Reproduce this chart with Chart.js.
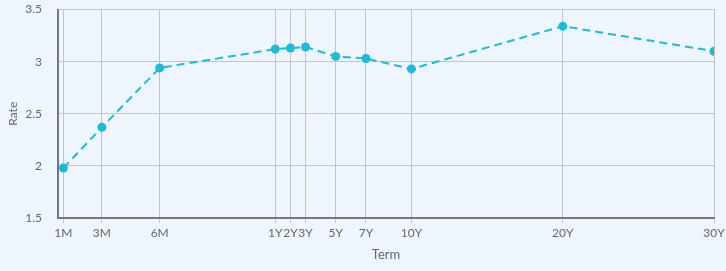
<!DOCTYPE html>
<html>
<head>
<meta charset="utf-8">
<script src="https://cdn.jsdelivr.net/npm/chart.js@4.4.1/dist/chart.umd.min.js"></script>
<style>
  html, body { margin: 0; padding: 0; background: #EEF5FC; }
  #wrap { width: 726px; height: 271px; position: relative; }
</style>
</head>
<body>
<div id="wrap"><canvas id="curve"></canvas></div>
<script>
// Termes de la courbe (positions sur l'axe : mois jusqu'à 1Y, puis années compressées)
const termLabels = ['1M', '3M', '6M', '1Y', '2Y', '3Y', '5Y', '7Y', '10Y', '20Y', '30Y'];
const termX = [1, 3, 6, 12, 12.79, 13.57, 15.14, 16.71, 19.07, 26.93, 34.78];
const rates = [1.98, 2.37, 2.94, 3.12, 3.13, 3.14, 3.05, 3.03, 2.93, 3.34, 3.10];
const rateTicks = [1.5, 2, 2.5, 3, 3.5];

const points = termX.map((x, i) => ({ x: x, y: rates[i] }));
const textColor = '#666';
const fontFamily = 'Lato, "Open Sans", sans-serif';

document.addEventListener('DOMContentLoaded', function() {
    const ctx = document.getElementById('curve').getContext('2d');
    new Chart(ctx, {
        type: 'line',
        data: {
            datasets: [{
                label: 'Rate',
                data: points,
                borderColor: '#1ABCD9',
                backgroundColor: '#1ABCD9',
                borderWidth: 2,
                borderDash: [8, 5],
                pointRadius: 4.5,
                pointBorderWidth: 0,
                tension: 0,
                fill: false
            }]
        },
        options: {
            responsive: true,
            maintainAspectRatio: false,
            animation: false,
            layout: { padding: { top: 0, right: 0, left: 0, bottom: 8 } },
            plugins: {
                legend: { display: false },
                tooltip: { enabled: false }
            },
            scales: {
                x: {
                    type: 'linear',
                    min: 0.72,
                    max: termX[termX.length - 1],
                    afterBuildTicks: function(axis) {
                        axis.ticks = termX.map(v => ({ value: v }));
                    },
                    afterFit: function(axis) {
                        axis.paddingRight = 12;
                    },
                    ticks: {
                        autoSkip: false,
                        maxRotation: 0,
                        color: textColor,
                        font: { family: fontFamily, size: 12 },
                        padding: 3,
                        callback: function(value) {
                            const i = termX.indexOf(value);
                            return i >= 0 ? termLabels[i] : '';
                        }
                    },
                    grid: { color: '#C4C4C4', lineWidth: 1, tickLength: 5 },
                    border: { color: '#777', width: 2 },
                    title: {
                        display: true,
                        text: 'Term',
                        color: textColor,
                        font: { family: fontFamily, size: 13 },
                        padding: { top: 4, bottom: 0 }
                    }
                },
                y: {
                    min: 1.5,
                    max: 3.5,
                    afterBuildTicks: function(axis) {
                        axis.ticks = rateTicks.map(v => ({ value: v }));
                    },
                    afterFit: function(axis) {
                        axis.width = 58;
                        axis.paddingTop = 9.5;
                        axis.paddingBottom = 8;
                    },
                    ticks: {
                        color: textColor,
                        font: { family: fontFamily, size: 12 },
                        padding: 16,
                        callback: function(value) {
                            return String(value);
                        }
                    },
                    grid: { color: '#C4C4C4', lineWidth: 1, drawTicks: false },
                    border: { color: '#777', width: 2 },
                    title: {
                        display: true,
                        text: 'Rate',
                        color: textColor,
                        font: { family: fontFamily, size: 12 },
                        padding: { top: 6, bottom: 6 }
                    }
                }
            }
        }
    });
});
</script>
</body>
</html>
